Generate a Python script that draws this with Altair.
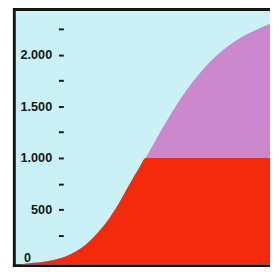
import altair as alt
import pandas as pd

# curve (x in plot units, value in chart units)
t_vals = [7.5, 15.5, 33.5, 57.5, 73.5, 85.5, 95.5, 105.5, 118.5, 128.5, 135.5, 142.5,
          155.5, 168.5, 185.5, 195.5, 215.5, 235.5, 252.5, 263.5, 266]
v_vals = [-28, -19, 0, 66, 160, 272, 385, 526, 742, 901, 1005, 1117,
          1333, 1531, 1756, 1869, 2047, 2178, 2254, 2300, 2310]
cap_value = 1000
major_ticks = [500, 1000, 1500, 2000]
minor_ticks = [250, 750, 1250, 1750, 2250]
zero_label = ["0"]
zero_label_t = [13.5]

BG = "#c9f1f6"
RED = "#f42a0c"
VIOLET = "#cc88cc"
INK = "#151515"
FONT = "Liberation Sans Narrow, Liberation Sans, Arial, sans-serif"

df = pd.DataFrame({"t": t_vals, "v": v_vals})
lab = pd.DataFrame({"t": zero_label_t, "v": [0], "text": zero_label})

xs = alt.Scale(domain=[0, 266], nice=False, zero=False)
ys = alt.Scale(domain=[-42, 2437], nice=False, zero=False)

common = dict(
    orient="left", offset=-50.5, domain=False, grid=False,
    ticks=True, tickSize=5, tickWidth=2, tickColor=INK,
    labelFont=FONT, labelFontSize=13, labelFontWeight="bold", labelColor=INK,
    labelPadding=7, title=None, zindex=1, labelOverlap=False,
)
major_axis = alt.Axis(values=major_ticks,
                      labelExpr="replace(format(datum.value, ','), ',', '.')", **common)
minor_axis = alt.Axis(values=minor_ticks, labels=False, **common)

base = alt.Chart(df).transform_calculate(b="-28", r=f"min(datum.v, {cap_value})")

violet = base.mark_area(color=VIOLET, interpolate="monotone", opacity=1).encode(
    x=alt.X("t:Q", scale=xs, axis=None),
    y=alt.Y("v:Q", scale=ys, axis=major_axis),
    y2=alt.Y2("b:Q"),
)
red = base.mark_area(color=RED, interpolate="monotone", opacity=1).encode(
    x=alt.X("t:Q", scale=xs, axis=None),
    y=alt.Y("r:Q", scale=ys, axis=minor_axis),
    y2=alt.Y2("b:Q"),
)
zero = alt.Chart(lab).mark_text(
    font=FONT, fontSize=13, fontWeight="bold", color=INK, align="center", baseline="middle", dy=-3
).encode(
    x=alt.X("t:Q", scale=xs, axis=None),
    y=alt.Y("v:Q", scale=ys, axis=None),
    text="text:N",
)

chart = alt.layer(violet, red, zero).resolve_axis(y="independent").properties(
    width=266, height=264,
    autosize=alt.AutoSizeParams(type="none"),
    padding={"left": 6.5, "top": -2.5, "right": -2.5, "bottom": 2.5},
    background="white",
).configure_view(fill=BG, stroke=INK, strokeWidth=3)

chart.save("out.html", embed_options={"renderer": "svg", "actions": False})
